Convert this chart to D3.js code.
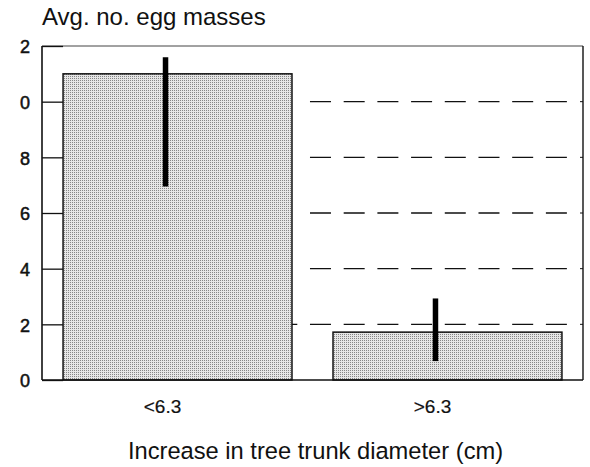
<!DOCTYPE html>
<html>
<head>
<meta charset="utf-8">
<script src="https://cdn.jsdelivr.net/npm/d3@7"></script>
<style>
  body { margin: 0; background: #fff; }
  svg { display: block; font-family: "Liberation Sans", Arial, sans-serif; }
</style>
</head>
<body>
<div id="app"></div>
<script>
// data
const categories = ['<6.3', '>6.3'];
const means = [11.0, 1.72];
const errLow = [6.95, 0.68];
const errHigh = [11.6, 2.93];
const tickValues = [0, 2, 4, 6, 8, 10, 12];
const tickLabels = ['0', '2', '4', '6', '8', '0', '2'];   // leading digits are cut off in the source
const gridValues = [2, 4, 6, 8, 10];

const width = 590, height = 467;
const margin = { top: 46, right: 7, bottom: 87, left: 42 };

const x = d3.scaleBand()
  .domain(categories)
  .range([margin.left, width - margin.right])
  .paddingInner(0.152)
  .paddingOuter(0.078);

const y = d3.scaleLinear()
  .domain([0, 12])
  .range([height - margin.bottom, margin.top]);

const svg = d3.select('#app').append('svg')
  .attr('width', width)
  .attr('height', height);

// stipple fill
const pat = svg.append('defs').append('pattern')
  .attr('id', 'stipple')
  .attr('patternUnits', 'userSpaceOnUse')
  .attr('width', 2).attr('height', 2);
pat.append('rect').attr('width', 2).attr('height', 2).attr('fill', '#e6e6e6');
pat.append('rect').attr('width', 1).attr('height', 1).attr('fill', '#868686');

const x0 = margin.left, x1 = width - margin.right;
const yb = y(0), yt = y(12);

// dashed reference lines to the right of the first bar
const barEdge = x(categories[0]) + x.bandwidth();
svg.append('g').selectAll('line')
  .data(gridValues)
  .join('line')
  .attr('x1', d => d === 2 ? barEdge : barEdge + 18)
  .attr('x2', x1 - 12)
  .attr('y1', d => y(d)).attr('y2', d => y(d))
  .attr('stroke', '#111')
  .attr('stroke-width', 1.4)
  .attr('stroke-dasharray', '21 12.7')
  .attr('stroke-dashoffset', d => d === 2 ? -18 + 33.7 : 0);

// bars
svg.append('g').selectAll('rect')
  .data(categories)
  .join('rect')
  .attr('x', d => x(d))
  .attr('y', (d, i) => y(means[i]))
  .attr('width', x.bandwidth())
  .attr('height', (d, i) => y(0) - y(means[i]))
  .attr('fill', 'url(#stipple)')
  .attr('stroke', '#111')
  .attr('stroke-width', 1.5);

// error bars, a little left of the bar centres as in the source
const errX = d => x(d) + x.bandwidth() / 2 - 12;
svg.append('g').selectAll('line')
  .data(categories)
  .join('line')
  .attr('x1', errX).attr('x2', errX)
  .attr('y1', (d, i) => y(errHigh[i]))
  .attr('y2', (d, i) => y(errLow[i]))
  .attr('stroke', '#000')
  .attr('stroke-width', 5.5);

// frame
svg.append('line').attr('x1', x0).attr('x2', x1).attr('y1', yt).attr('y2', yt)
  .attr('stroke', '#444').attr('stroke-width', 1);
svg.append('line').attr('x1', x0).attr('x2', x1).attr('y1', yb).attr('y2', yb)
  .attr('stroke', '#111').attr('stroke-width', 1.5);
svg.append('line').attr('x1', x0).attr('x2', x0).attr('y1', yt).attr('y2', yb)
  .attr('stroke', '#111').attr('stroke-width', 1.6);
svg.append('line').attr('x1', x1).attr('x2', x1).attr('y1', yt).attr('y2', yb)
  .attr('stroke', '#111').attr('stroke-width', 1.4);

// y axis: inward ticks to the first bar, labels outside
const yAxis = d3.axisRight(y)
  .tickValues(tickValues)
  .tickSize(x(categories[0]) - x0)
  .tickFormat((d, i) => tickLabels[i]);
const ya = svg.append('g')
  .attr('transform', `translate(${x0},0)`)
  .call(yAxis);
ya.select('.domain').remove();
ya.selectAll('.tick line').attr('stroke', '#111').attr('stroke-width', 1.3);
ya.selectAll('.tick text')
  .attr('x', -17)
  .attr('dy', '0.38em')
  .attr('text-anchor', 'middle')
  .attr('font-size', 18)
  .attr('fill', '#111')
  .attr('stroke', '#111')
  .attr('stroke-width', 0.5);

// small ticks on right frame
svg.append('g').selectAll('line')
  .data(gridValues)
  .join('line')
  .attr('x1', x1 - 3).attr('x2', x1)
  .attr('y1', d => y(d)).attr('y2', d => y(d))
  .attr('stroke', '#111');

// category labels
svg.append('g').selectAll('text')
  .data(categories)
  .join('text')
  .attr('x', d => x(d) + x.bandwidth() / 2 - 15)
  .attr('y', 413)
  .attr('text-anchor', 'middle')
  .attr('font-size', 19)
  .attr('fill', '#111')
  .attr('stroke', '#111')
  .attr('stroke-width', 0.2)
  .text(d => d);

// titles
svg.append('text')
  .attr('x', x0).attr('y', 25)
  .attr('font-size', 24)
  .attr('fill', '#111')
  .text('Avg. no. egg masses');

svg.append('text')
  .attr('x', (x0 + x1) / 2 + 3).attr('y', 459)
  .attr('text-anchor', 'middle')
  .attr('font-size', 23.7)
  .attr('fill', '#111')
  .text('Increase in tree trunk diameter (cm)');
</script>
</body>
</html>
